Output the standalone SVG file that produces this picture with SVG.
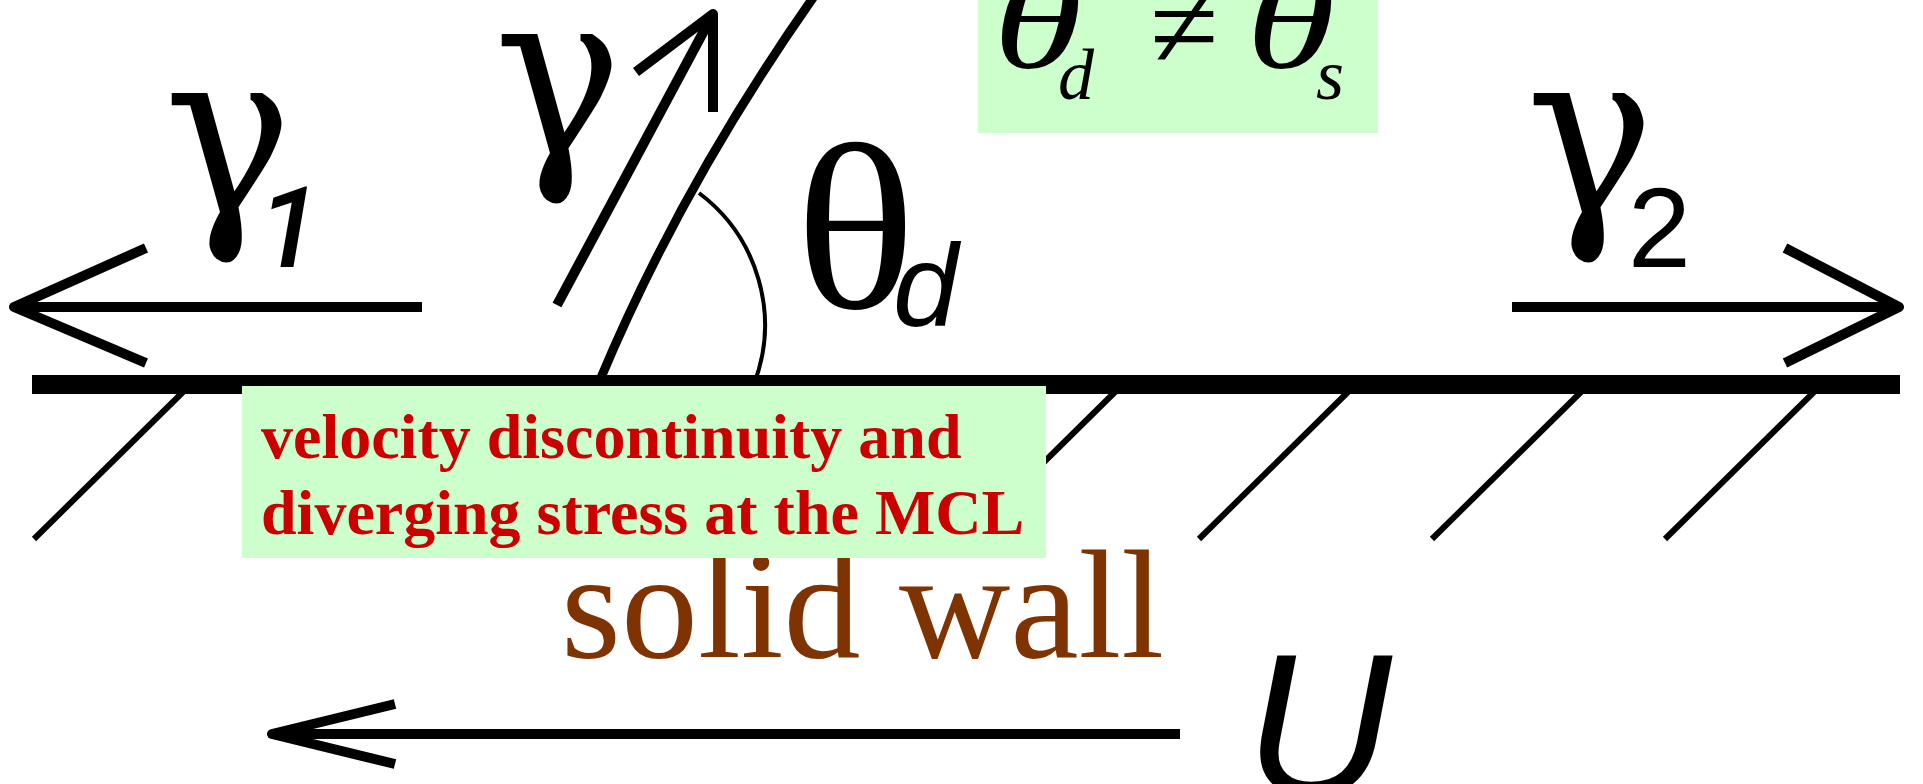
<svg xmlns="http://www.w3.org/2000/svg" width="1923" height="784" viewBox="0 0 1923 784">
<style>
.hatch{stroke:#000;stroke-width:6;fill:none}
.arrow{stroke:#000;stroke-width:10;fill:none;stroke-linejoin:round;stroke-linecap:butt}
.thin{stroke:#000;stroke-width:4;fill:none}
.box{fill:#CCFFCC}
.sym{font-family:"Liberation Serif","Times New Roman",serif;fill:#000}
.gam{font-family:"DejaVu Serif",serif;font-size:233px;fill:#000}
.sub{font-family:"Liberation Sans",Arial,sans-serif;fill:#000}
.red{font-family:"Liberation Serif","Times New Roman",serif;font-weight:bold;font-size:64px;fill:#CC0000}
.wall{font-family:"Liberation Serif","Times New Roman",serif;font-size:154px;fill:#7F3300}
</style>
<rect width="1923" height="784" fill="#fff"/>
<g id="wall">
<rect x="32" y="375" width="1868" height="19" fill="#000"/>
<g id="hatching">
<line class="hatch" x1="183" y1="392" x2="34" y2="539"/>
<line class="hatch" x1="416" y1="392" x2="267" y2="539"/>
<line class="hatch" x1="649" y1="392" x2="500" y2="539"/>
<line class="hatch" x1="882" y1="392" x2="733" y2="539"/>
<line class="hatch" x1="1115" y1="392" x2="966" y2="539"/>
<line class="hatch" x1="1348" y1="392" x2="1199" y2="539"/>
<line class="hatch" x1="1581" y1="392" x2="1432" y2="539"/>
<line class="hatch" x1="1814" y1="392" x2="1665" y2="539"/>
</g>
</g>
<g id="interface">
<path d="M600 380 Q682 184 815 -5" stroke="#000" stroke-width="9" fill="none"/>
<path class="thin" d="M699 193 A165 165 0 0 1 754 384"/>
</g>
<g id="connectors">
<path class="arrow" d="M557 305 L713 14"/>
<path class="arrow" d="M636 72 L713 14 L713 112"/>
<path class="arrow" d="M422 307 L14 307"/>
<path class="arrow" d="M146 248 L14 307 L146 363"/>
<path class="arrow" d="M1512 307 L1899 307"/>
<path class="arrow" d="M1785 248 L1899 307 L1785 363"/>
<path class="arrow" d="M1180 734 L272 734"/>
<path class="arrow" d="M395 704 L272 734 L395 764"/>
</g>
<g id="label-solid-wall">
<text class="wall" x="561" y="657">solid wall</text>
</g>
<g id="label-gamma1">
<text class="gam" transform="translate(164 214) scale(0.92 1)">γ</text>
<text x="258" y="267" font-size="113" font-style="italic" font-weight="500" font-family="Roboto,sans-serif">1</text>
</g>
<g id="label-gamma">
<text class="gam" transform="translate(494 155) scale(0.92 1)">γ</text>
</g>
<g id="label-gamma2">
<text class="gam" transform="translate(1526 214) scale(0.92 1)">γ</text>
<text class="sub" x="1628" y="267" font-size="113">2</text>
</g>
<g id="label-theta-d">
<text class="sym" font-size="238" transform="translate(795 308) scale(1.06 1)">θ</text>
<text class="sub" x="893" y="326" font-size="117" font-style="italic">d</text>
</g>
<g id="note-inequality">
<rect class="box" x="978" y="-5" width="400" height="138"/>
<text class="sym" font-style="italic" font-size="140" transform="translate(993 68) scale(1.3 1)">θ</text>
<text class="sym" font-style="italic" font-size="72" x="1058" y="99">d</text>
<text class="sym" font-size="125" x="1150" y="68">≠</text>
<text class="sym" font-style="italic" font-size="140" transform="translate(1246 68) scale(1.3 1)">θ</text>
<text class="sym" font-style="italic" font-size="72" x="1316" y="99">s</text>
</g>
<g id="note-mcl">
<rect class="box" x="242" y="386" width="804" height="172"/>
<text class="red" x="261" y="458">velocity discontinuity and</text>
<text class="red" x="261" y="534">diverging stress at the MCL</text>
</g>
<g id="label-U">
<text class="sub" x="1245" y="795" font-size="203" font-style="italic">U</text>
</g>
</svg>
